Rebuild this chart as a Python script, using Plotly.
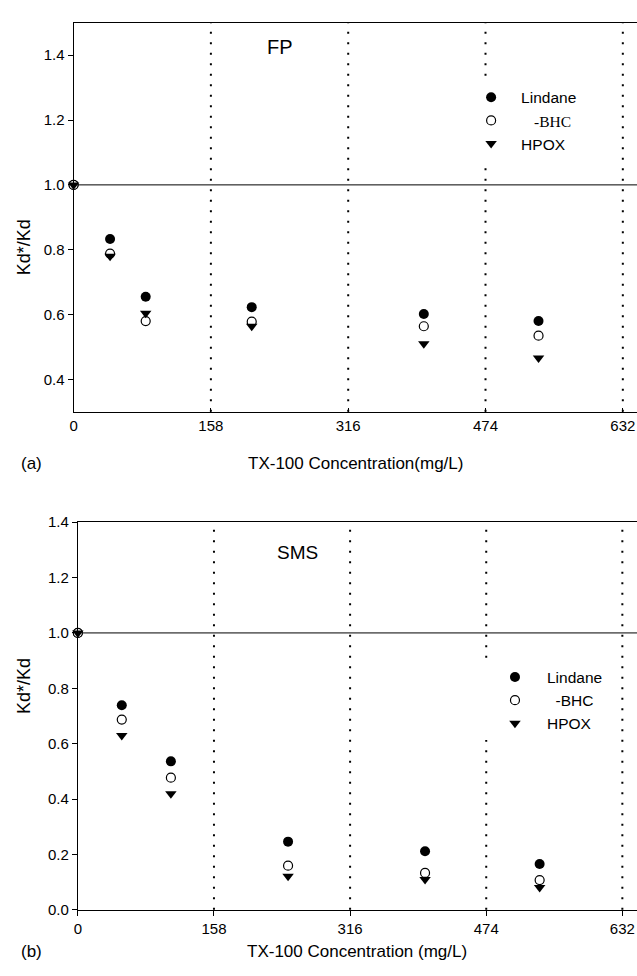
import plotly.graph_objects as go

# ---------------- data ----------------
x_tick_vals = [0, 158, 316, 474, 632]
x_tick_text = ["0", "158", "316", "474", "632"]
divider_x = [158, 316, 474, 632]

conc_fp = [0, 42, 83, 205, 403, 535]
lindane_fp = [1.0, 0.833, 0.655, 0.623, 0.602, 0.580]
bhc_fp = [1.0, 0.788, 0.580, 0.578, 0.564, 0.535]
hpox_fp = [1.0, 0.780, 0.604, 0.564, 0.510, 0.466]

conc_sms = [0, 51, 108, 244, 403, 536]
lindane_sms = [1.0, 0.739, 0.536, 0.246, 0.211, 0.165]
bhc_sms = [1.0, 0.687, 0.477, 0.159, 0.133, 0.107]
hpox_sms = [1.0, 0.629, 0.419, 0.121, 0.109, 0.080]

series_names = ["Lindane", "\u00a0\u00a0\u00a0<span style='font-family:Liberation Serif'>-BHC</span>", "HPOX"]
series_names_b = ["Lindane", "\u00a0\u00a0-BHC", "HPOX"]

W, H = 637, 976
FONT = "Liberation Sans, Arial, Helvetica, sans-serif"


def py(p):
    return 1 - p / H


styles = [
    dict(symbol="circle", size=10, color="black", line=dict(width=0, color="black")),
    dict(symbol="circle", size=9, color="white", line=dict(width=1.2, color="black")),
    dict(symbol="triangle-down", size=10, color="black", line=dict(width=0, color="black")),
]

fig = go.Figure()

for ys, nm, st in zip([lindane_fp, bhc_fp, hpox_fp], series_names, styles):
    fig.add_trace(go.Scatter(x=conc_fp, y=ys, mode="markers", name=nm, marker=st,
                             xaxis="x", yaxis="y", legend="legend", cliponaxis=False))
for ys, nm, st in zip([lindane_sms, bhc_sms, hpox_sms], series_names_b, styles):
    fig.add_trace(go.Scatter(x=conc_sms, y=ys, mode="markers", name=nm, marker=st,
                             xaxis="x2", yaxis="y2", legend="legend2", cliponaxis=False))

axis_common = dict(showgrid=False, zeroline=False, showline=True, linecolor="black",
                   linewidth=1, tickwidth=1, tickcolor="black",
                   tickfont=dict(family=FONT, size=15, color="black"))

fig.update_layout(
    width=W, height=H,
    margin=dict(l=0, r=0, t=0, b=0),
    paper_bgcolor="white", plot_bgcolor="white",
    font=dict(family=FONT, color="black"),
    xaxis=dict(domain=[70 / W, 1], range=[0, 648.3], anchor="y", tickvals=x_tick_vals,
               ticktext=x_tick_text, mirror=True, ticks="inside", ticklen=4, **axis_common),
    yaxis=dict(domain=[py(410), py(14)], range=[0.3, 1.5], anchor="x",
               tickvals=[0.4, 0.6, 0.8, 1.0, 1.2, 1.4], tickformat=".1f",
               ticks="outside", ticklen=5, **axis_common),
    xaxis2=dict(domain=[74.3 / W, 1], range=[0, 649], anchor="y2", tickvals=x_tick_vals,
                ticktext=x_tick_text, mirror=True, ticks="outside", ticklen=5, **axis_common),
    yaxis2=dict(domain=[py(916.7), py(522.3)], range=[0, 1.4], anchor="x2",
                tickvals=[0.0, 0.2, 0.4, 0.6, 0.8, 1.0, 1.2, 1.4], tickformat=".1f",
                ticks="outside", ticklen=5, **axis_common),
    legend=dict(x=460 / W, y=py(73), xanchor="left", yanchor="top", bgcolor="white",
                borderwidth=0, itemwidth=50, font=dict(family=FONT, size=15.5, color="black"),
                tracegroupgap=0),
    legend2=dict(x=482 / W, y=py(663), xanchor="left", yanchor="top", bgcolor="white",
                 borderwidth=0, itemwidth=54, font=dict(family=FONT, size=15.5, color="black"),
                 tracegroupgap=0),
    showlegend=True,
)

# reference lines
for xr, yr in [("x", "y"), ("x2", "y2")]:
    for xv in divider_x:
        fig.add_shape(type="line", xref=xr, yref=yr + " domain", x0=xv, x1=xv, y0=0, y1=1,
                      line=dict(color="black", width=2, dash="2px,8.5px"), layer="below")
    fig.add_shape(type="line", xref=xr + " domain", yref=yr, x0=0, x1=1, y0=1.0, y1=1.0,
                  line=dict(color="black", width=1), layer="below")

ann = []
ann.append(dict(text="FP", x=238, y=1.425, xref="x", yref="y", showarrow=False,
                font=dict(family=FONT, size=20, color="black")))
ann.append(dict(text="SMS", x=255, y=1.29, xref="x2", yref="y2", showarrow=False,
                font=dict(family=FONT, size=19, color="black")))
for yc, lbl in [(463, "(a)"), (959, "(b)")]:
    ann.append(dict(text=lbl, x=28 / W, y=py(yc), xref="paper", yref="paper", showarrow=False,
                    xanchor="center", yanchor="middle", font=dict(family=FONT, size=17, color="black")))
ann.append(dict(text="TX-100 Concentration(mg/L)", x=0.5, y=py(463), xref="x domain", yref="paper",
                showarrow=False, yanchor="middle", font=dict(family=FONT, size=17, color="black")))
ann.append(dict(text="TX-100 Concentration (mg/L)", x=0.5, y=py(959), xref="x2 domain", yref="paper",
                showarrow=False, yanchor="middle", font=dict(family=FONT, size=17, color="black")))
ann.append(dict(text="Kd*/Kd", x=8 / W, y=py(212), xref="paper", yref="paper", showarrow=False,
                textangle=-90, font=dict(family=FONT, size=18, color="black")))
ann.append(dict(text="Kd*/Kd", x=8 / W, y=py(719.5), xref="paper", yref="paper", showarrow=False,
                textangle=-90, font=dict(family=FONT, size=18, color="black")))
fig.update_layout(annotations=ann)

fig.write_html("out.html")
